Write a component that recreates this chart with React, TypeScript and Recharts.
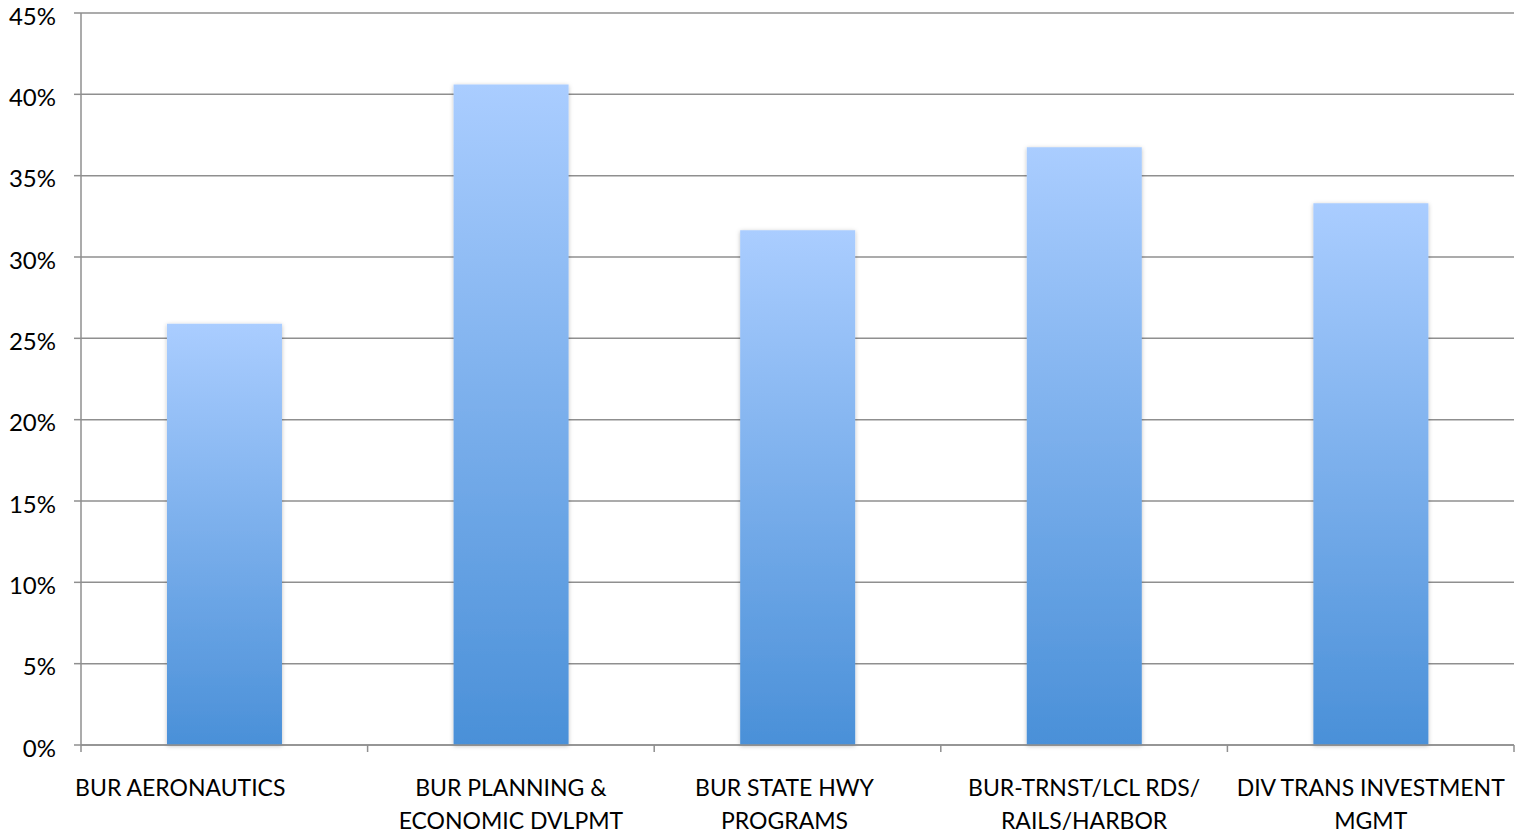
import React from "react";
import { Bar, BarChart, CartesianGrid, XAxis, YAxis } from "recharts";

const bureaus = [
  "BUR AERONAUTICS",
  "BUR PLANNING & ECONOMIC DVLPMT",
  "BUR STATE HWY PROGRAMS",
  "BUR-TRNST/LCL RDS/ RAILS/HARBOR",
  "DIV TRANS INVESTMENT MGMT",
];

const labelLines = [
  ["BUR AERONAUTICS"],
  ["BUR PLANNING &", "ECONOMIC DVLPMT"],
  ["BUR STATE HWY", "PROGRAMS"],
  ["BUR-TRNST/LCL RDS/", "RAILS/HARBOR"],
  ["DIV TRANS INVESTMENT", "MGMT"],
];

const shares = [0.259, 0.406, 0.3165, 0.3675, 0.333];

const yTicks = [0, 0.05, 0.1, 0.15, 0.2, 0.25, 0.3, 0.35, 0.4, 0.45];

// Excel placed a couple of labels off-centre; nudge them the same way
const labelShift = [-44, 0, -13, 0, 0];

const data = bureaus.map((name, i) => ({ name, share: shares[i] }));

const GRID = "#8f8f8f";
const FONT = "Lato, 'Open Sans', sans-serif";

function CategoryTick(props: any) {
  const { x, y, index, payload } = props;
  const lines = labelLines[index] || [payload.value];
  const half = payload && payload.offset ? payload.offset : 0;
  const last = index === bureaus.length - 1;
  return (
    <g>
      {/* Excel puts tick marks between categories */}
      <line x1={x - half} y1={y} x2={x - half} y2={y + 7} stroke={GRID} strokeWidth={1.5} />
      {last && (
        <line x1={x + half} y1={y} x2={x + half} y2={y + 7} stroke={GRID} strokeWidth={1.5} />
      )}
      <text
        x={x + labelShift[index]}
        y={y}
        textAnchor="middle"
        fill="#000"
        fontSize={23}
        fontFamily={FONT}
      >
        {lines.map((line: string, i: number) => (
          <tspan key={i} x={x + labelShift[index]} dy={i === 0 ? 51 : 33}>
            {line}
          </tspan>
        ))}
      </text>
    </g>
  );
}

export default function App() {
  return (
    <div style={{ position: "absolute", left: 0, top: 0, background: "#fff" }}>
      <BarChart
        width={1515}
        height={837}
        data={data}
        margin={{ top: 13, right: 1, left: 0, bottom: 0 }}
        barCategoryGap="30%"
      >
        <defs>
          <linearGradient id="barFill" x1="0" y1="0" x2="0" y2="1">
            <stop offset="0%" stopColor="#aacdff" />
            <stop offset="100%" stopColor="#4a90d8" />
          </linearGradient>
          <filter id="barShadow" x="-10%" y="-10%" width="120%" height="120%">
            <feDropShadow dx="0" dy="1" stdDeviation="2" floodColor="#000" floodOpacity="0.25" />
          </filter>
        </defs>
        <CartesianGrid horizontal vertical={false} stroke={GRID} strokeWidth={1.5} />
        <XAxis
          dataKey="name"
          height={92}
          axisLine={{ stroke: GRID, strokeWidth: 1.5 }}
          tickLine={false}
          tickSize={0}
          tickMargin={0}
          interval={0}
          tick={<CategoryTick />}
        />
        <YAxis
          width={81}
          domain={[0, 0.45]}
          ticks={yTicks}
          interval={0}
          axisLine={{ stroke: GRID, strokeWidth: 1.5 }}
          tickLine={{ stroke: GRID, strokeWidth: 1.5 }}
          tickSize={7}
          tickMargin={18}
          tickFormatter={(v: number) => `${Math.round(v * 100)}%`}
          tick={{ fill: "#000", fontSize: 24, fontFamily: FONT, dy: 3 }}
        />
        <Bar
          dataKey="share"
          fill="url(#barFill)"
          filter="url(#barShadow)"
          isAnimationActive={false}
        />
      </BarChart>
    </div>
  );
}
